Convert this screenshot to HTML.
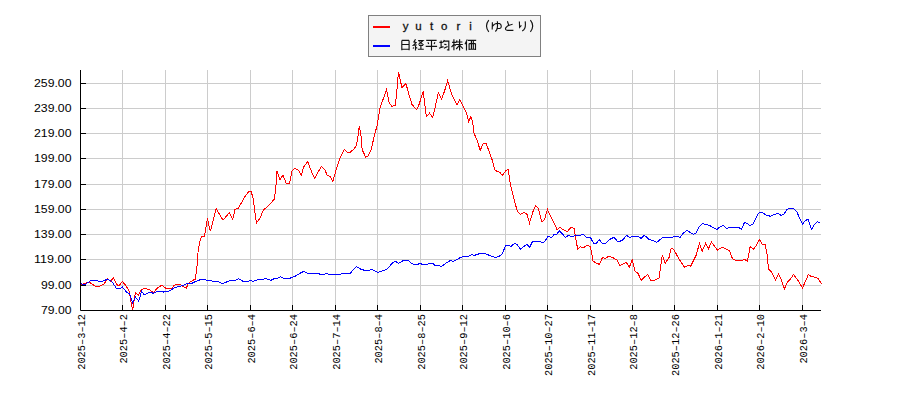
<!DOCTYPE html><html><head><meta charset="utf-8"><style>html,body{margin:0;padding:0;background:#fff;}svg{display:block;}</style></head><body><svg width="900" height="400" viewBox="0 0 900 400">
<rect width="900" height="400" fill="#ffffff"/>
<path d="M86,83.5H821 M86,108.5H821 M86,133.5H821 M86,158.5H821 M86,184.5H821 M86,209.5H821 M86,234.5H821 M86,259.5H821 M86,285.5H821 M122.5,70V305 M165.5,70V305 M207.5,70V305 M250.5,70V305 M292.5,70V305 M335.5,70V305 M377.5,70V305 M420.5,70V305 M462.5,70V305 M505.5,70V305 M547.5,70V305 M590.5,70V305 M632.5,70V305 M674.5,70V305 M717.5,70V305 M759.5,70V305 M802.5,70V305" stroke="#cccccc" stroke-width="1" fill="none"/>
<polyline points="80.2,284.7 86.4,283.0 89.8,282.4 95.4,286.4 99.4,286.4 103.9,284.1 107.5,279.1 110.6,281.3 113.4,277.6 116.8,284.7 119.1,285.8 122.4,281.3 126.4,286.4 129.2,291.4 130.9,301.0 132.6,310.2 135.4,292.6 138.2,295.4 141.0,289.7 144.4,288.6 148.9,289.2 153.4,292.6 157.9,287.5 161.8,285.2 165.7,288.1 169.5,288.2 171.2,289.3 174.0,285.4 176.2,284.5 180.7,284.5 183.6,287.0 186.4,288.2 188.1,283.7 190.9,281.4 195.1,279.2 195.9,275.2 197.1,265.1 198.2,250.0 199.9,241.3 201.5,236.5 204.5,236.3 205.5,230.0 207.4,218.5 210.3,231.3 213.0,221.3 216.1,208.5 223.0,220.3 229.3,212.5 232.8,219.4 234.9,209.4 238.0,208.5 243.0,200.0 244.0,198.0 249.0,191.0 251.0,191.0 253.0,198.0 254.4,208.0 256.4,223.0 260.0,218.0 263.6,209.6 267.0,207.0 271.0,203.0 274.4,199.0 276.0,185.0 277.0,171.0 280.0,180.0 283.0,175.0 286.0,183.0 289.6,183.0 292.0,171.0 295.0,168.4 298.6,170.4 301.3,175.3 303.5,167.4 307.6,161.4 311.4,171.3 314.8,178.7 318.2,171.9 321.5,166.3 324.9,169.7 327.2,175.3 330.1,176.4 332.8,181.6 336.0,170.0 339.7,158.7 344.2,149.3 347.2,152.3 350.2,152.3 353.2,149.7 356.2,146.0 357.7,138.5 359.2,126.2 360.7,132.5 362.2,149.7 365.7,157.2 368.2,155.7 371.2,149.7 374.2,136.2 377.2,125.0 380.2,107.0 383.1,99.2 386.6,89.5 389.3,103.5 391.9,106.2 395.4,105.3 397.1,87.8 398.5,71.7 399.8,78.1 401.9,87.4 405.9,83.4 408.5,93.0 412.0,104.4 416.4,109.7 418.2,107.0 420.8,99.2 423.1,91.3 426.4,116.7 429.5,113.2 432.7,117.5 435.1,107.9 438.2,92.8 441.7,98.9 444.6,91.0 447.6,80.5 449.9,88.4 452.5,96.3 456.9,105.0 459.9,99.4 463.0,105.9 466.2,112.0 468.6,121.7 470.9,116.4 472.7,122.5 473.9,132.9 477.0,139.9 480.2,150.4 483.1,143.9 486.1,143.4 488.4,149.5 491.9,159.2 494.9,169.7 497.1,171.4 499.8,172.3 502.4,175.4 505.9,170.5 508.2,169.7 509.9,181.0 511.1,187.9 513.8,198.4 517.3,211.2 520.4,214.2 523.9,212.4 526.9,214.2 529.5,222.9 533.0,211.5 535.6,205.9 538.3,208.0 541.8,221.7 544.4,219.9 547.4,209.4 550.9,216.8 554.0,222.9 557.2,229.9 559.6,227.3 562.8,229.4 567.2,231.7 571.2,227.3 574.2,228.7 575.9,239.5 577.7,249.2 580.3,246.5 583.1,247.8 586.9,245.6 590.2,246.2 591.5,251.9 593.1,261.2 596.2,263.1 599.4,264.4 602.5,257.5 605.0,258.5 608.8,256.2 612.5,257.5 616.9,259.8 620.0,265.6 623.1,263.8 626.2,262.2 629.4,267.2 632.2,259.4 635.0,271.0 638.1,273.5 641.2,280.2 647.5,274.4 650.6,280.2 654.4,280.2 659.0,278.1 660.6,266.9 662.2,255.2 663.5,258.1 665.2,263.1 669.0,257.5 671.2,248.5 673.8,249.4 678.8,258.8 684.4,267.2 688.1,265.6 690.6,266.2 694.4,258.8 696.2,255.0 699.4,243.5 702.2,251.2 705.6,243.5 708.5,248.5 711.5,242.2 715.0,246.9 717.5,250.0 722.5,247.2 726.2,249.0 729.4,250.6 732.5,258.8 735.6,260.2 740.0,261.0 744.4,259.4 747.5,261.2 748.8,253.8 750.2,246.5 753.5,249.4 756.9,244.4 759.4,239.4 762.2,244.4 765.0,244.4 766.9,253.1 768.5,268.8 771.6,272.3 775.5,279.9 778.5,274.4 781.3,279.2 784.3,289.2 787.5,282.0 790.9,278.5 793.6,274.4 797.1,279.2 802.6,287.9 808.4,274.4 811.5,276.9 815.7,277.1 818.4,278.8 821.2,283.7" fill="none" stroke="#ff0000" stroke-width="1" stroke-linejoin="miter" shape-rendering="crispEdges"/>
<polyline points="80.2,283.6 84.7,284.7 91.5,280.2 96.6,280.2 98.2,281.3 102.7,281.3 107.5,279.1 111.7,281.3 116.2,288.1 120.7,288.1 122.4,286.9 126.4,292.0 129.7,294.2 132.6,302.7 135.4,297.1 138.7,301.0 141.6,291.4 144.4,294.8 148.9,292.6 153.4,293.1 157.9,291.4 163.5,292.0 168.0,291.4 171.2,290.1 174.6,287.4 178.5,286.8 183.0,285.4 187.5,283.1 190.9,283.7 195.9,281.4 201.6,279.2 204.9,279.2 207.2,280.6 211.1,280.6 212.8,281.4 217.9,281.7 222.9,283.7 225.7,282.3 231.4,280.3 235.3,280.3 238.7,278.6 243.2,281.4 248.2,281.4 250.0,280.2 253.0,281.5 256.0,280.3 259.0,279.3 263.0,279.3 265.5,278.3 268.0,279.3 271.0,280.3 274.5,278.5 277.5,278.3 280.5,276.8 283.5,278.3 290.0,278.3 292.0,277.3 295.5,276.0 300.0,273.3 304.0,271.3 307.5,273.3 318.5,273.3 320.0,274.3 324.0,274.3 326.5,273.3 329.0,274.3 340.0,274.4 343.5,273.3 350.5,273.3 352.0,271.0 356.5,266.5 361.0,269.3 364.5,270.3 369.5,270.3 371.5,269.3 374.0,270.3 377.8,272.3 381.0,271.3 385.0,270.0 387.0,269.0 393.0,262.5 395.5,261.3 398.5,263.3 403.5,260.5 408.5,260.5 411.0,263.0 413.5,264.3 418.0,264.3 420.0,263.3 422.5,264.5 427.5,264.5 428.8,263.3 432.5,263.3 435.0,265.4 439.4,265.4 441.0,266.6 443.1,265.4 445.6,263.4 448.8,261.4 450.6,260.3 452.8,261.6 455.0,260.3 457.5,259.2 460.0,257.8 463.0,256.5 468.5,256.5 472.0,254.5 474.0,255.5 477.0,254.5 480.0,253.5 484.5,253.5 487.0,254.5 490.0,255.5 492.5,256.5 495.5,257.5 499.0,256.3 502.0,254.0 503.5,251.0 505.5,245.5 509.5,245.5 511.0,246.5 514.5,243.3 517.5,245.0 520.4,249.2 524.3,246.2 526.9,244.4 529.5,247.4 532.7,241.3 539.2,241.3 542.7,243.0 545.6,240.4 547.9,236.0 551.4,237.8 554.0,234.6 556.7,234.3 559.3,230.8 562.8,234.3 565.4,237.8 568.4,235.2 571.2,236.9 575.0,235.7 580.0,235.3 583.0,234.3 586.5,237.5 590.5,237.5 593.5,243.3 596.5,243.3 599.2,239.5 602.5,243.5 605.5,243.5 609.5,239.5 614.0,237.3 617.5,241.3 620.0,241.3 623.0,239.8 626.5,235.3 629.5,237.5 632.0,236.5 638.0,236.5 641.0,238.3 644.5,235.3 649.0,239.5 653.5,240.5 656.5,242.5 659.0,240.5 662.5,237.5 672.5,237.5 674.0,236.5 678.0,236.5 680.0,237.5 683.0,233.5 687.0,230.5 689.5,232.0 693.5,234.3 696.5,232.5 699.0,227.0 702.5,223.5 705.5,224.3 709.5,225.5 713.0,227.5 717.0,229.5 720.0,226.8 723.0,225.5 727.0,228.5 729.0,227.3 738.5,227.3 741.5,229.3 744.5,222.5 747.0,223.5 750.0,225.5 753.0,224.0 755.0,220.0 758.0,214.0 760.0,212.5 762.5,212.8 766.0,215.0 770.5,216.3 774.5,214.5 778.0,213.5 781.5,215.5 784.0,214.0 787.0,209.5 790.0,208.3 793.5,208.3 797.0,212.0 799.5,218.0 802.5,224.2 805.0,220.8 808.0,219.3 811.5,229.3 814.0,225.0 817.5,221.5 820.5,223.5" fill="none" stroke="#0000ff" stroke-width="1" stroke-linejoin="miter" shape-rendering="crispEdges"/>
<path d="M80.5,70V310.5H821 M80,83.5H86 M80,108.5H86 M80,133.5H86 M80,158.5H86 M80,184.5H86 M80,209.5H86 M80,234.5H86 M80,259.5H86 M80,285.5H86 M122.5,305V310 M165.5,305V310 M207.5,305V310 M250.5,305V310 M292.5,305V310 M335.5,305V310 M377.5,305V310 M420.5,305V310 M462.5,305V310 M505.5,305V310 M547.5,305V310 M590.5,305V310 M632.5,305V310 M674.5,305V310 M717.5,305V310 M759.5,305V310 M802.5,305V310" stroke="#000000" stroke-width="1" fill="none"/>
<text x="71.5" y="87.0" text-anchor="end" font-family="Liberation Sans, sans-serif" font-size="11" fill="#000" textLength="37.5" lengthAdjust="spacingAndGlyphs">259.00</text>
<text x="71.5" y="112.0" text-anchor="end" font-family="Liberation Sans, sans-serif" font-size="11" fill="#000" textLength="37.5" lengthAdjust="spacingAndGlyphs">239.00</text>
<text x="71.5" y="137.0" text-anchor="end" font-family="Liberation Sans, sans-serif" font-size="11" fill="#000" textLength="37.5" lengthAdjust="spacingAndGlyphs">219.00</text>
<text x="71.5" y="162.0" text-anchor="end" font-family="Liberation Sans, sans-serif" font-size="11" fill="#000" textLength="37.5" lengthAdjust="spacingAndGlyphs">199.00</text>
<text x="71.5" y="188.0" text-anchor="end" font-family="Liberation Sans, sans-serif" font-size="11" fill="#000" textLength="37.5" lengthAdjust="spacingAndGlyphs">179.00</text>
<text x="71.5" y="213.0" text-anchor="end" font-family="Liberation Sans, sans-serif" font-size="11" fill="#000" textLength="37.5" lengthAdjust="spacingAndGlyphs">159.00</text>
<text x="71.5" y="238.0" text-anchor="end" font-family="Liberation Sans, sans-serif" font-size="11" fill="#000" textLength="37.5" lengthAdjust="spacingAndGlyphs">139.00</text>
<text x="71.5" y="263.0" text-anchor="end" font-family="Liberation Sans, sans-serif" font-size="11" fill="#000" textLength="37.5" lengthAdjust="spacingAndGlyphs">119.00</text>
<text x="71.5" y="289.0" text-anchor="end" font-family="Liberation Sans, sans-serif" font-size="11" fill="#000" textLength="30.5" lengthAdjust="spacingAndGlyphs">99.00</text>
<text x="71.5" y="314.0" text-anchor="end" font-family="Liberation Sans, sans-serif" font-size="11" fill="#000" textLength="30.5" lengthAdjust="spacingAndGlyphs">79.00</text>
<text transform="translate(84.5,314) rotate(-90)" x="0" y="0" text-anchor="end" font-family="Liberation Mono, monospace" font-size="11.5" fill="#000" textLength="55.8" lengthAdjust="spacingAndGlyphs">2025&#8211;3&#8211;12</text>
<text transform="translate(126.5,314) rotate(-90)" x="0" y="0" text-anchor="end" font-family="Liberation Mono, monospace" font-size="11.5" fill="#000" textLength="49.6" lengthAdjust="spacingAndGlyphs">2025&#8211;4&#8211;2</text>
<text transform="translate(169.5,314) rotate(-90)" x="0" y="0" text-anchor="end" font-family="Liberation Mono, monospace" font-size="11.5" fill="#000" textLength="55.8" lengthAdjust="spacingAndGlyphs">2025&#8211;4&#8211;22</text>
<text transform="translate(211.5,314) rotate(-90)" x="0" y="0" text-anchor="end" font-family="Liberation Mono, monospace" font-size="11.5" fill="#000" textLength="55.8" lengthAdjust="spacingAndGlyphs">2025&#8211;5&#8211;15</text>
<text transform="translate(254.5,314) rotate(-90)" x="0" y="0" text-anchor="end" font-family="Liberation Mono, monospace" font-size="11.5" fill="#000" textLength="49.6" lengthAdjust="spacingAndGlyphs">2025&#8211;6&#8211;4</text>
<text transform="translate(296.5,314) rotate(-90)" x="0" y="0" text-anchor="end" font-family="Liberation Mono, monospace" font-size="11.5" fill="#000" textLength="55.8" lengthAdjust="spacingAndGlyphs">2025&#8211;6&#8211;24</text>
<text transform="translate(339.5,314) rotate(-90)" x="0" y="0" text-anchor="end" font-family="Liberation Mono, monospace" font-size="11.5" fill="#000" textLength="55.8" lengthAdjust="spacingAndGlyphs">2025&#8211;7&#8211;14</text>
<text transform="translate(381.5,314) rotate(-90)" x="0" y="0" text-anchor="end" font-family="Liberation Mono, monospace" font-size="11.5" fill="#000" textLength="49.6" lengthAdjust="spacingAndGlyphs">2025&#8211;8&#8211;4</text>
<text transform="translate(424.5,314) rotate(-90)" x="0" y="0" text-anchor="end" font-family="Liberation Mono, monospace" font-size="11.5" fill="#000" textLength="55.8" lengthAdjust="spacingAndGlyphs">2025&#8211;8&#8211;25</text>
<text transform="translate(466.5,314) rotate(-90)" x="0" y="0" text-anchor="end" font-family="Liberation Mono, monospace" font-size="11.5" fill="#000" textLength="55.8" lengthAdjust="spacingAndGlyphs">2025&#8211;9&#8211;12</text>
<text transform="translate(509.5,314) rotate(-90)" x="0" y="0" text-anchor="end" font-family="Liberation Mono, monospace" font-size="11.5" fill="#000" textLength="55.8" lengthAdjust="spacingAndGlyphs">2025&#8211;10&#8211;6</text>
<text transform="translate(551.5,314) rotate(-90)" x="0" y="0" text-anchor="end" font-family="Liberation Mono, monospace" font-size="11.5" fill="#000" textLength="62.0" lengthAdjust="spacingAndGlyphs">2025&#8211;10&#8211;27</text>
<text transform="translate(594.5,314) rotate(-90)" x="0" y="0" text-anchor="end" font-family="Liberation Mono, monospace" font-size="11.5" fill="#000" textLength="62.0" lengthAdjust="spacingAndGlyphs">2025&#8211;11&#8211;17</text>
<text transform="translate(636.5,314) rotate(-90)" x="0" y="0" text-anchor="end" font-family="Liberation Mono, monospace" font-size="11.5" fill="#000" textLength="55.8" lengthAdjust="spacingAndGlyphs">2025&#8211;12&#8211;8</text>
<text transform="translate(678.5,314) rotate(-90)" x="0" y="0" text-anchor="end" font-family="Liberation Mono, monospace" font-size="11.5" fill="#000" textLength="62.0" lengthAdjust="spacingAndGlyphs">2025&#8211;12&#8211;26</text>
<text transform="translate(721.5,314) rotate(-90)" x="0" y="0" text-anchor="end" font-family="Liberation Mono, monospace" font-size="11.5" fill="#000" textLength="55.8" lengthAdjust="spacingAndGlyphs">2026&#8211;1&#8211;21</text>
<text transform="translate(763.5,314) rotate(-90)" x="0" y="0" text-anchor="end" font-family="Liberation Mono, monospace" font-size="11.5" fill="#000" textLength="55.8" lengthAdjust="spacingAndGlyphs">2026&#8211;2&#8211;10</text>
<text transform="translate(806.5,314) rotate(-90)" x="0" y="0" text-anchor="end" font-family="Liberation Mono, monospace" font-size="11.5" fill="#000" textLength="49.6" lengthAdjust="spacingAndGlyphs">2026&#8211;3&#8211;4</text>
<rect x="368.5" y="15.5" width="172" height="41" fill="#f4f4f4" stroke="#808080" stroke-width="1"/>
<path d="M373,27H390" stroke="#ff0000" stroke-width="2"/>
<path d="M373,46H390" stroke="#0000ff" stroke-width="2"/>
<text x="405.5" y="30.2" text-anchor="middle" font-family="Liberation Sans, sans-serif" font-size="11.5" fill="#111" stroke="#111" stroke-width="0.3">y</text>
<text x="418.5" y="30.2" text-anchor="middle" font-family="Liberation Sans, sans-serif" font-size="11.5" fill="#111" stroke="#111" stroke-width="0.3">u</text>
<text x="431.7" y="30.2" text-anchor="middle" font-family="Liberation Sans, sans-serif" font-size="11.5" fill="#111" stroke="#111" stroke-width="0.3">t</text>
<text x="444.1" y="30.2" text-anchor="middle" font-family="Liberation Sans, sans-serif" font-size="11.5" fill="#111" stroke="#111" stroke-width="0.3">o</text>
<text x="458.5" y="30.2" text-anchor="middle" font-family="Liberation Sans, sans-serif" font-size="11.5" fill="#111" stroke="#111" stroke-width="0.3">r</text>
<text x="470.5" y="30.2" text-anchor="middle" font-family="Liberation Sans, sans-serif" font-size="11.5" fill="#111" stroke="#111" stroke-width="0.3">i</text>
<path d="M488.8,20.2Q484.2,26 488.8,31.8 M492.4,22.2L492.2,29.6 M492.3,26.5C493.5,24.5 495.5,23.3 498,23.2C500.5,23.2 501.4,25 501.2,27C501,28.6 499,28.8 496.8,28.3 M497.4,21.2C497.6,24 497.6,26.5 497.2,28.5C496.9,29.8 496.2,30.8 495.3,31.5 M507.4,21.2L508.8,25.4 M512.6,24.2C510,24.7 507,26 505.9,27.6C505,29 505.6,30.3 507.6,30.4L513.4,30.4 M519.4,21.6L519.6,27.4L521.4,25.4 M525.2,21.4C525.5,24 525.6,26.5 524.8,28.2C524.2,29.5 523.3,30.3 522.2,30.9 M530.4,20.2Q535,26 530.4,31.8 M401.8,40.4V50.3M409.1,40.4V50.3M401.8,40.4H409.1M401.8,44.5H409.1M401.8,49.2H409.1 M415.5,39.3L413.9,41.9L416.1,42.6L413.4,45.3L416.7,44.9M415.5,45.3V50.5M413.6,47.3L413.2,48.6M416.4,47.3L417,48.6 M418.1,40.6H423L418.5,44.5M419.4,41.6L423.6,44.9M418.9,45.5H423.1M420.9,44.6V49.2M417.9,49.2H423.8 M426.2,40.4H436.6M427.9,42.2L428.7,43.9M434.9,42.2L434.1,43.9M425.7,46.4H437.1M431.5,40.4V50.5 M439.4,42.3H442.7M441.1,40.4V46.9M439,48.3L443.5,46.6 M444.4,39.9L443.1,42.3M444.1,41.1H448.8V50.1L446.9,49.8M444.2,44.3L446.5,44.6M443.9,48.3L447.6,46.4 M452.1,42.3H456M453.9,39.3V50.3M453.9,44.3L451.5,47.1M454.5,44.5L455.8,45.6 M456.9,40.4L456.4,42.6M456.6,42H462.4M455.6,44.5H462.8M459.6,39.3V50.5M459.4,45.4L456.2,49M459.8,45.4L462.9,48.6 M467.3,39.4L465,44.3M466.5,41.9V50.5 M468,40.4H476.2M469.1,43.6V50.1M475.5,43.6V50.1M469.1,43.6H475.5M468.7,49.2H475.9M471.4,40.8V49.2M473.3,40.8V49.2" fill="none" stroke="#111" stroke-width="1.15" stroke-linecap="butt" stroke-linejoin="miter"/>
</svg></body></html>
